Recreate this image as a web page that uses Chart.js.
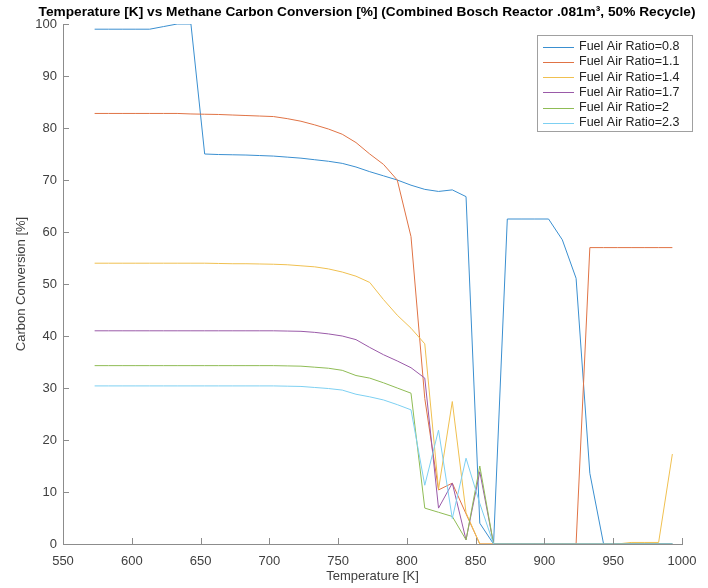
<!DOCTYPE html>
<html>
<head>
<meta charset="utf-8">
<script src="https://cdn.jsdelivr.net/npm/chart.js@4.4.1/dist/chart.umd.min.js"></script>
<style>
  body { margin: 0; background: #fff; }
  #wrap { width: 708px; height: 588px; position: relative; }
</style>
</head>
<body>
<div id="wrap"><canvas id="chart" width="708" height="588"></canvas></div>
<script>
// temperature grid [K]
const temps = [573, 583, 593, 603, 613, 623, 633, 643, 653, 663, 673, 683, 693, 703, 713,
  723, 733, 743, 753, 763, 773, 783, 793, 803, 813, 823, 833, 843, 853, 863, 873, 883,
  893, 903, 913, 923, 933, 943, 953, 963, 973, 983, 993];

const ratioLabels = ["Fuel Air Ratio=0.8", "Fuel Air Ratio=1.1", "Fuel Air Ratio=1.4",
  "Fuel Air Ratio=1.7", "Fuel Air Ratio=2", "Fuel Air Ratio=2.3"];

const ratio08 = [99, 99, 99, 99, 99, 99.5, 100, 100, 75, 74.9, 74.85, 74.8, 74.7, 74.6, 74.4,
  74.2, 73.9, 73.6, 73.2, 72.5, 71.6, 70.8, 70.0, 69.0, 68.2, 67.8, 68.1, 66.8, 4, 0, 62.5, 62.5,
  62.5, 62.5, 58.5, 51.1, 13.6, 0, 0, 0, 0, 0, 0];
const ratio11 = [82.8, 82.8, 82.8, 82.8, 82.8, 82.8, 82.8, 82.7, 82.65, 82.6, 82.5, 82.4, 82.3, 82.2, 81.8,
  81.3, 80.6, 79.8, 78.8, 77.2, 75.0, 73.0, 70.0, 59.1, 28, 10.4, 11.7, 5.8, 0, 0, 0, 0,
  0, 0, 0, 0, 57, 57, 57, 57, 57, 57, 57];
const ratio14 = [54, 54, 54, 54, 54, 54, 54, 54, 54, 53.95, 53.9, 53.9, 53.85, 53.8, 53.7,
  53.5, 53.3, 52.9, 52.3, 51.5, 50.3, 47.0, 44.0, 41.5, 38.5, 10.5, 27.4, 6, 0, 0, 0, 0,
  0, 0, 0, 0, 0, 0, 0, 0.3, 0.3, 0.3, 17.3];
const ratio17 = [41, 41, 41, 41, 41, 41, 41, 41, 41, 41, 41, 41, 41, 41, 40.95,
  40.9, 40.7, 40.4, 40.0, 39.3, 37.8, 36.4, 35.2, 33.9, 31.9, 6.9, 11.7, 0.8, 13.9, 0, 0, 0,
  0, 0, 0, 0, 0, 0, 0, 0, 0, 0, 0];
const ratio20 = [34.3, 34.3, 34.3, 34.3, 34.3, 34.3, 34.3, 34.3, 34.3, 34.3, 34.3, 34.3, 34.3, 34.3, 34.25,
  34.2, 34.0, 33.8, 33.4, 32.4, 31.9, 31.0, 30.0, 29.0, 6.9, 6.1, 5.3, 0.8, 15, 0, 0, 0,
  0, 0, 0, 0, 0, 0, 0, 0, 0, 0, 0];
const ratio23 = [30.4, 30.4, 30.4, 30.4, 30.4, 30.4, 30.4, 30.4, 30.4, 30.4, 30.4, 30.4, 30.4, 30.4, 30.35,
  30.3, 30.1, 29.9, 29.6, 28.8, 28.3, 27.7, 26.8, 25.8, 11.3, 21.9, 4.9, 16.5, 7.8, 0, 0, 0,
  0, 0, 0, 0, 0, 0, 0, 0, 0, 0, 0];

const seriesValues = [ratio08, ratio11, ratio14, ratio17, ratio20, ratio23];
const lineColors = ["#3a8fd0", "#e07345", "#f0c050", "#9a5aa8", "#8fbc55", "#7dd0f2"];

const chartTitle = "Temperature [K] vs Methane Carbon Conversion [%] (Combined Bosch Reactor .081m\u00b3, 50% Recycle)";
const axisGray = "#8c8c8c";
const textGray = "#404040";
const fontName = "'Liberation Sans', Arial, sans-serif";

const datasets = seriesValues.map((vals, i) => ({
  label: ratioLabels[i],
  data: temps.map((t, j) => ({ x: t, y: vals[j] })),
  borderColor: lineColors[i],
  borderWidth: 1,
  pointRadius: 0,
  fill: false,
  tension: 0,
  order: seriesValues.length - i,
}));

// MATLAB style ticks pointing into the plot
const innerTicks = {
  id: "innerTicks",
  afterDatasetsDraw(chart) {
    const { ctx, chartArea, scales } = chart;
    ctx.save();
    ctx.strokeStyle = axisGray;
    ctx.lineWidth = 1;
    ctx.beginPath();
    scales.x.ticks.forEach((t) => {
      const px = Math.round(scales.x.getPixelForValue(t.value)) + 0.5;
      ctx.moveTo(px, chartArea.bottom);
      ctx.lineTo(px, chartArea.bottom - 6);
    });
    scales.y.ticks.forEach((t) => {
      const py = Math.round(scales.y.getPixelForValue(t.value)) + 0.5;
      ctx.moveTo(chartArea.left, py);
      ctx.lineTo(chartArea.left + 6, py);
    });
    ctx.stroke();
    ctx.restore();
  },
};

// title drawn by hand so it is not squeezed to the canvas width
const plotTitle = {
  id: "plotTitle",
  afterDraw(chart) {
    const { ctx } = chart;
    ctx.save();
    ctx.font = "bold 13.7px " + fontName;
    ctx.fillStyle = "#000";
    ctx.textAlign = "center";
    ctx.textBaseline = "middle";
    ctx.fillText(chartTitle, 367, 12);
    ctx.restore();
  },
};

const boxLegend = {
  id: "boxLegend",
  afterDraw(chart) {
    const { ctx } = chart;
    const left = 537, top = 35, w = 155, rowH = 15.3;
    const items = chart.data.datasets;
    const h = 96;
    ctx.save();
    ctx.fillStyle = "#fff";
    ctx.fillRect(left, top, w, h);
    ctx.strokeStyle = "#a0a0a0";
    ctx.lineWidth = 1;
    ctx.strokeRect(left + 0.5, top + 0.5, w, h);
    ctx.font = "12.5px " + fontName;
    ctx.textBaseline = "middle";
    ctx.fillStyle = "#222";
    items.forEach((ds, i) => {
      const y = top + 11.5 + i * rowH;
      ctx.strokeStyle = ds.borderColor;
      ctx.beginPath();
      ctx.moveTo(left + 6, Math.round(y) + 0.5);
      ctx.lineTo(left + 37, Math.round(y) + 0.5);
      ctx.stroke();
      ctx.fillText(ds.label, left + 42, y);
    });
    ctx.restore();
  },
};

new Chart(document.getElementById("chart"), {
  type: "line",
  data: { datasets: datasets },
  plugins: [innerTicks, plotTitle, boxLegend],
  options: {
    responsive: false,
    animation: false,
    layout: { padding: { left: 0, right: 26, top: 24, bottom: 0 } },
    plugins: {
      legend: { display: false },
      tooltip: { enabled: false },
      title: { display: false },
    },
    scales: {
      x: {
        type: "linear",
        min: 550,
        max: 1000,
        afterFit(scale) { scale.height = 44; },
        ticks: { stepSize: 50, color: textGray, padding: 10, maxRotation: 0,
          callback: (v) => String(v),
          font: { family: fontName, size: 13 } },
        grid: { drawOnChartArea: false, drawTicks: false },
        border: { display: true, color: axisGray },
        title: { display: true, text: "Temperature [K]", color: textGray,
          font: { family: fontName, size: 13 }, padding: { top: 0, bottom: 4 } },
      },
      y: {
        min: 0,
        max: 100,
        afterFit(scale) { scale.width = 63; },
        ticks: { stepSize: 10, color: textGray, padding: 6,
          callback: (v) => String(v),
          font: { family: fontName, size: 13 } },
        grid: { drawOnChartArea: false, drawTicks: false },
        border: { display: true, color: axisGray },
        title: { display: true, text: "Carbon Conversion [%]", color: textGray,
          font: { family: fontName, size: 13 }, padding: { top: 14, bottom: 0 } },
      },
    },
  },
});
</script>
</body>
</html>
